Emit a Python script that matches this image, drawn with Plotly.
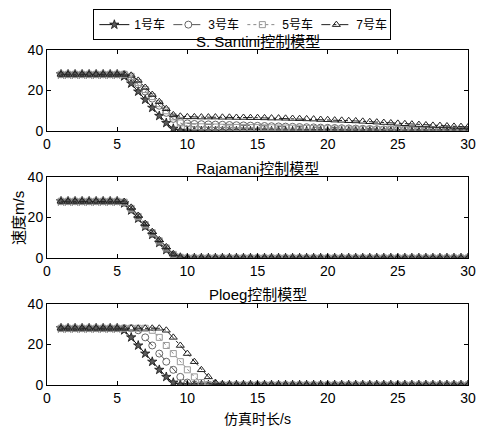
import numpy as np
import plotly.graph_objects as go

# time axis: 1.0 .. 30.0 s, step 0.5
t = np.arange(1.0, 30.01, 0.5)

names = ["1号车", "3号车", "5号车", "7号车"]
titles = ["S. Santini控制模型", "Rajamani控制模型", "Ploeg控制模型"]
x_ticks = [0, 5, 10, 15, 20, 25, 30]
y_ticks = [0, 20, 40]

Z10 = [0, 0, 0, 0, 0, 0, 0, 0, 0, 0]
Z9 = [0, 0, 0, 0, 0, 0, 0, 0, 0]

# ---- S. Santini ----
santini_1 = ([28, 28, 28, 28, 28, 28, 28, 28, 28, 27] +
             [23.5, 19.5, 15.5, 11.5, 7.5, 4, 1.2, 0.2, 0, 0] +
             Z10 + Z10 + Z10 + Z9)
santini_3 = ([28, 28, 28, 28, 28, 28, 28, 28, 28, 28] +
             [26, 23, 19.5, 16, 12.5, 9, 6, 4.5, 3.8, 3.5] +
             [3.4, 3.3, 3.2, 3.1, 3.0, 2.9, 2.8, 2.7, 2.6, 2.5] +
             [2.4, 2.3, 2.2, 2.1, 2.0, 1.9, 1.8, 1.7, 1.6, 1.5] +
             [1.4, 1.3, 1.2, 1.1, 1.0, 0.9, 0.8, 0.7, 0.6, 0.6] +
             [0.5, 0.5, 0.4, 0.4, 0.3, 0.3, 0.3, 0.2, 0.2])
santini_5 = ([28, 28, 28, 28, 28, 28, 28, 28, 28, 28] +
             [27, 24, 20.5, 17, 13.5, 10, 7, 4, 2.5, 2.2] +
             [2.1, 2.0, 2.0, 1.9, 1.9, 1.8, 1.8, 1.7, 1.7, 1.6] +
             [1.6, 1.5, 1.5, 1.4, 1.4, 1.3, 1.3, 1.2, 1.2, 1.1] +
             [1.1, 1.0, 1.0, 0.9, 0.9, 0.8, 0.8, 0.8, 0.7, 0.7] +
             [0.7, 0.6, 0.6, 0.6, 0.5, 0.5, 0.5, 0.4, 0.4])
santini_7 = ([28, 28, 28, 28, 28, 28, 28, 28, 28, 28] +
             [27.5, 25, 21.5, 18, 14.5, 11, 8, 7.3, 7, 7] +
             [6.9, 6.9, 6.9, 6.8, 6.8, 6.7, 6.7, 6.6, 6.6, 6.5] +
             [6.4, 6.4, 6.3, 6.2, 6.1, 6.0, 5.9, 5.7, 5.6, 5.4] +
             [5.3, 5.1, 5.0, 4.8, 4.6, 4.4, 4.2, 4.0, 3.8, 3.6] +
             [3.4, 3.2, 3.0, 2.8, 2.7, 2.5, 2.3, 2.2, 2.0])

# ---- Rajamani ----
rajamani_1 = ([28, 28, 28, 28, 28, 28, 28, 28, 28, 27] +
              [23.5, 19.5, 15.5, 11.5, 7.5, 4, 1.2, 0.2, 0, 0] +
              Z10 + Z10 + Z10 + Z9)
rajamani_3 = ([28, 28, 28, 28, 28, 28, 28, 28, 28, 27.3] +
              [24, 20, 16, 12, 8, 4.5, 1.5, 0.3, 0, 0] +
              Z10 + Z10 + Z10 + Z9)
rajamani_5 = ([28, 28, 28, 28, 28, 28, 28, 28, 28, 27.6] +
              [24.5, 20.5, 16.5, 12.5, 8.5, 5, 1.8, 0.4, 0, 0] +
              Z10 + Z10 + Z10 + Z9)
rajamani_7 = ([28, 28, 28, 28, 28, 28, 28, 28, 28, 27.8] +
              [25, 21, 17, 13, 9, 5.5, 2, 0.5, 0, 0] +
              Z10 + Z10 + Z10 + Z9)

# ---- Ploeg ----
ploeg_1 = ([28, 28, 28, 28, 28, 28, 28, 28, 28, 27] +
           [23.5, 19.5, 15.5, 11.5, 7.5, 4, 1.2, 0.2, 0, 0] +
           Z10 + Z10 + Z10 + Z9)
ploeg_3 = ([28, 28, 28, 28, 28, 28, 28, 28, 28, 28] +
           [28, 27, 23.5, 19.5, 15.5, 11.5, 7.5, 4, 1.2, 0.2] +
           Z10 + Z10 + Z10 + Z9)
ploeg_5 = ([28, 28, 28, 28, 28, 28, 28, 28, 28, 28] +
           [28, 28, 28, 27, 23.5, 19.5, 15.5, 11.5, 7.5, 4] +
           [1.2, 0.2, 0, 0, 0, 0, 0, 0, 0, 0] +
           Z10 + Z10 + Z9)
ploeg_7 = ([28, 28, 28, 28, 28, 28, 28, 28, 28, 28] +
           [28, 28, 28, 28, 28, 27, 23.5, 19.5, 15.5, 11.5] +
           [7.5, 4, 1.2, 0.2, 0, 0, 0, 0, 0, 0] +
           Z10 + Z10 + Z9)

panels = [
    [santini_1, santini_3, santini_5, santini_7],
    [rajamani_1, rajamani_3, rajamani_5, rajamani_7],
    [ploeg_1, ploeg_3, ploeg_5, ploeg_7],
]

styles = [
    dict(line=dict(color="#111111", width=1, dash="solid"),
         marker=dict(symbol="star", size=7, color="#5a5a5a",
                     line=dict(color="#111111", width=0.8))),
    dict(line=dict(color="#555555", width=1, dash="dash"),
         marker=dict(symbol="circle-open", size=7, color="#666666",
                     line=dict(width=1))),
    dict(line=dict(color="#888888", width=1, dash="dot"),
         marker=dict(symbol="square-open", size=6, color="#999999",
                     line=dict(width=1))),
    dict(line=dict(color="#222222", width=1, dash="dashdot"),
         marker=dict(symbol="triangle-up-open", size=7, color="#222222",
                     line=dict(width=1))),
]

FONT = "Liberation Sans, Arial, Noto Sans CJK SC, sans-serif"

fig = go.Figure()
domains = [[0.758, 1.0], [0.379, 0.621], [0.0, 0.242]]
for p, series in enumerate(panels):
    xa = "x" if p == 0 else f"x{p+1}"
    ya = "y" if p == 0 else f"y{p+1}"
    for k, vals in enumerate(series):
        fig.add_trace(go.Scatter(
            x=t, y=vals, mode="lines+markers", name=names[k],
            xaxis=xa, yaxis=ya, showlegend=(p == 0),
            **styles[k]))

axis_common = dict(showline=True, linecolor="black", linewidth=1, mirror="ticks",
                   ticks="inside", ticklen=4, tickcolor="black", showgrid=False,
                   zeroline=False, tickfont=dict(size=14, color="black", family=FONT))
layout = dict(
    width=478, height=427,
    margin=dict(l=47, r=10, t=50, b=42, autoexpand=False),
    plot_bgcolor="white", paper_bgcolor="white",
    font=dict(family=FONT, color="black"),
    legend=dict(orientation="h", x=0.464, xanchor="center", y=1.122, yanchor="top",
                bordercolor="black", borderwidth=1, bgcolor="white",
                font=dict(size=12, family=FONT), itemwidth=30,
                entrywidth=29, entrywidthmode="pixels",
                tracegroupgap=0),
)
for p in range(3):
    sx = "" if p == 0 else str(p + 1)
    layout["xaxis" + sx] = dict(axis_common, domain=[0, 1], range=[0, 30],
                                tickvals=x_ticks, anchor="y" + sx)
    layout["yaxis" + sx] = dict(axis_common, domain=domains[p], range=[0, 40],
                                tickvals=y_ticks, anchor="x" + sx)
fig.update_layout(**layout)

title_y = [(385 - 41) / 335, (385 - 168) / 335, (385 - 294) / 335]
for p in range(3):
    fig.add_annotation(text=titles[p], xref="paper", yref="paper", x=0.5, y=title_y[p],
                       xanchor="center", yanchor="middle", showarrow=False,
                       font=dict(size=15, family=FONT, color="black"))
fig.add_annotation(text="速度m/s", xref="paper", yref="paper", x=-0.069, y=0.4985,
                   xanchor="center", yanchor="middle", textangle=-90, showarrow=False,
                   font=dict(size=15, family=FONT, color="black"))
fig.add_annotation(text="仿真时长/s", xref="paper", yref="paper", x=0.5, y=-0.1,
                   xanchor="center", yanchor="middle", showarrow=False,
                   font=dict(size=14, family=FONT, color="black"))

# remove the default 8px page margin so the figure fills the window exactly
fig.write_html("out.html", config={"displayModeBar": False},
               post_script="document.body.style.margin='0';"
                           "document.body.style.overflow='hidden';")
